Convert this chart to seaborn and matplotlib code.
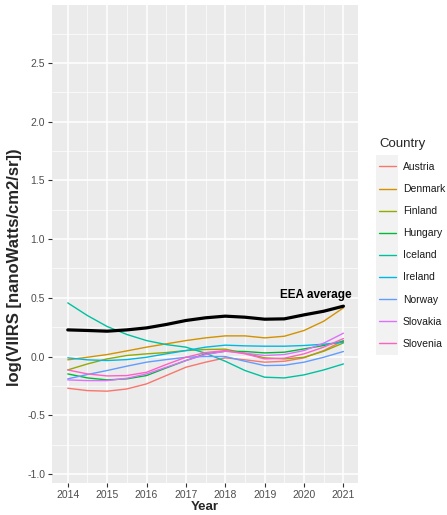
import matplotlib
matplotlib.use("Agg")
import matplotlib.pyplot as plt
import seaborn as sns
import pandas as pd
from matplotlib.patches import Rectangle
from matplotlib.ticker import MultipleLocator

# Smoothed light-intensity trends, sampled every half year
years = [2014.0, 2014.5, 2015.0, 2015.5, 2016.0, 2016.5, 2017.0, 2017.5,
         2018.0, 2018.5, 2019.0, 2019.5, 2020.0, 2020.5, 2021.0]

eea_average = [0.227, 0.222, 0.216, 0.227, 0.244, 0.273, 0.307, 0.330,
               0.344, 0.335, 0.318, 0.321, 0.355, 0.386, 0.429]

austria = [-0.270, -0.290, -0.295, -0.276, -0.233, -0.162, -0.091, -0.048,
           -0.011, -0.028, -0.048, -0.040, -0.011, 0.051, 0.136]
denmark = [-0.028, -0.006, 0.017, 0.048, 0.080, 0.108, 0.136, 0.159,
           0.176, 0.176, 0.159, 0.173, 0.222, 0.301, 0.415]
finland = [-0.114, -0.063, -0.020, 0.009, 0.023, 0.034, 0.051, 0.060,
           0.063, 0.028, -0.011, -0.020, -0.006, 0.045, 0.116]
hungary = [-0.148, -0.182, -0.199, -0.190, -0.162, -0.097, -0.034, 0.023,
           0.045, 0.043, 0.031, 0.037, 0.065, 0.094, 0.131]
iceland = [0.457, 0.349, 0.256, 0.188, 0.136, 0.102, 0.080, 0.028,
           -0.040, -0.119, -0.176, -0.182, -0.156, -0.114, -0.063]
ireland = [-0.011, -0.028, -0.034, -0.026, -0.006, 0.023, 0.051, 0.080,
           0.097, 0.091, 0.088, 0.088, 0.094, 0.105, 0.122]
norway = [-0.190, -0.153, -0.119, -0.082, -0.048, -0.026, -0.006, 0.000,
          0.000, -0.040, -0.077, -0.074, -0.048, -0.006, 0.043]
slovakia = [-0.199, -0.205, -0.205, -0.185, -0.148, -0.091, -0.034, 0.017,
            0.045, 0.028, 0.009, 0.017, 0.051, 0.114, 0.199]
slovenia = [-0.114, -0.148, -0.165, -0.162, -0.134, -0.068, -0.006, 0.034,
            0.051, 0.023, -0.020, -0.014, 0.023, 0.080, 0.153]

countries = ["Austria", "Denmark", "Finland", "Hungary", "Iceland",
             "Ireland", "Norway", "Slovakia", "Slovenia"]
series = [austria, denmark, finland, hungary, iceland,
          ireland, norway, slovakia, slovenia]
colors = ["#F8766D", "#D39200", "#93AA00", "#00BA38", "#00C19F",
          "#00B9E3", "#619CFF", "#DB72FB", "#FF61C3"]

x_ticks = [2014, 2015, 2016, 2017, 2018, 2019, 2020, 2021]
y_ticks = [-1.0, -0.5, 0.0, 0.5, 1.0, 1.5, 2.0, 2.5]

rows = []
for name, vals in zip(countries, series):
    for yr, v in zip(years, vals):
        rows.append({"Year": yr, "value": v, "Country": name})
df = pd.DataFrame(rows)
avg_df = pd.DataFrame({"Year": years, "value": eea_average})

sns.set_theme(style="darkgrid")
plt.rcParams["font.family"] = ["Liberation Sans", "DejaVu Sans"]

W, H = 447, 515
fig = plt.figure(figsize=(W / 100, H / 100), dpi=100)
left, right, top, bottom = 52, 358, 5, 483
ax = fig.add_axes([left / W, 1 - bottom / H, (right - left) / W, (bottom - top) / H])
ax.set_facecolor("#EBEBEB")

palette = dict(zip(countries, colors))
sns.lineplot(data=df, x="Year", y="value", hue="Country", hue_order=countries,
             palette=palette, linewidth=1.0, ax=ax, legend=True)
sns.lineplot(data=avg_df, x="Year", y="value", color="black", linewidth=2.3,
             ax=ax, legend=False)

ax.text(2020.3, 0.525, "EEA average", fontsize=8.5, fontweight="bold",
        ha="center", va="center", color="black")

ax.set_xlim(2013.6, 2021.37)
ax.set_ylim(-1.077, 2.994)
ax.set_xticks(x_ticks)
ax.set_xticklabels([str(t) for t in x_ticks])
ax.set_yticks(y_ticks)
ax.set_yticklabels([f"{t:.1f}" for t in y_ticks])
ax.xaxis.set_minor_locator(MultipleLocator(0.5))
ax.yaxis.set_minor_locator(MultipleLocator(0.25))
ax.grid(which="major", color="white", linewidth=1.1)
ax.grid(which="minor", color="white", linewidth=0.5)
ax.set_axisbelow(True)
for s in ax.spines.values():
    s.set_visible(False)
ax.tick_params(axis="both", which="major", length=3, width=0.8, color="#333333",
               labelsize=7.5, labelcolor="#4D4D4D", pad=2, bottom=True, left=True)
ax.tick_params(axis="both", which="minor", length=0)

ax.set_xlabel("Year", fontsize=9.5, fontweight="bold", labelpad=1)
ax.set_ylabel("log(VIIRS [nanoWatts/cm2/sr])", fontsize=12, fontweight="bold")
ax.yaxis.set_label_coords(-0.098, 0.452)

# Legend with the grey key strip behind the line keys
fig.patches.append(Rectangle((376 / W, 1 - 355 / H), 22 / W, 200 / H,
                             transform=fig.transFigure, facecolor="#F2F2F2",
                             edgecolor="none", zorder=-5))
handles, labels = ax.get_legend_handles_labels()
leg = ax.legend(handles[:len(countries)], labels[:len(countries)],
                title="Country", loc="upper left",
                bbox_to_anchor=(379 / W, 1 - 138 / H),
                bbox_transform=fig.transFigure, frameon=False,
                fontsize=7.5, title_fontsize=9.5, handlelength=1.6,
                handletextpad=0.7, labelspacing=1.16, borderaxespad=0,
                borderpad=0)
leg._legend_box.align = "left"
leg.set_zorder(10)
for t in leg.get_texts():
    t.set_color("#1A1A1A")
for h in leg.legend_handles:
    h.set_linewidth(1.0)

fig.savefig("out.png", dpi=100)
